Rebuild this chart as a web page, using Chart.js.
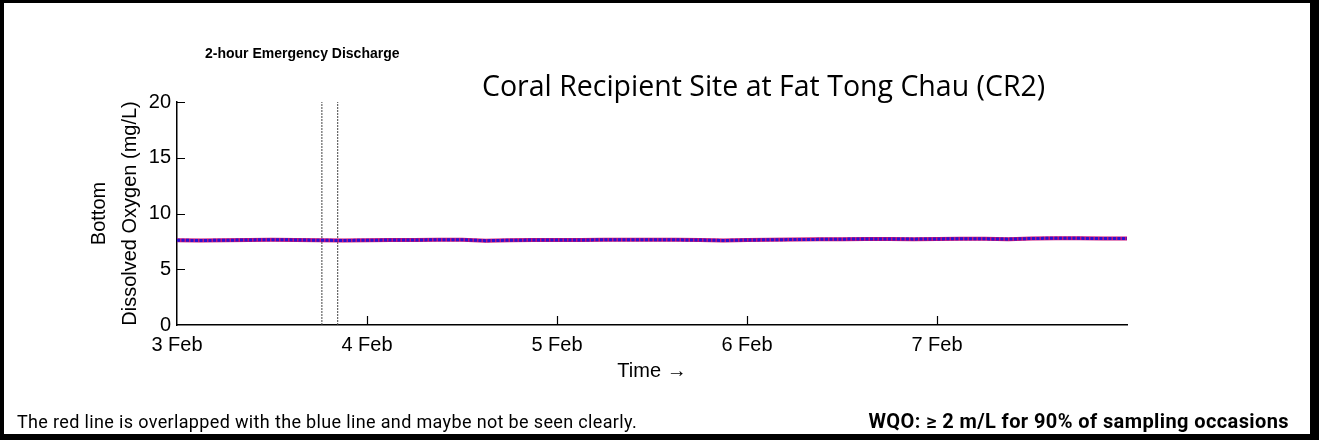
<!DOCTYPE html>
<html>
<head>
<meta charset="utf-8">
<script src="https://cdn.jsdelivr.net/npm/chart.js@4.4.1/dist/chart.umd.min.js"></script>
<style>
  html, body { margin: 0; padding: 0; background: #fff; }
  #wrap { position: relative; width: 1319px; height: 440px; overflow: hidden; }
  #chart { position: absolute; left: 0; top: 0; }
  #frame {
    position: absolute; left: 0; top: 0; width: 1319px; height: 440px; box-sizing: border-box;
    border-style: solid; border-color: #000; border-width: 3px 9px 6px 4px; pointer-events: none;
  }
  .txt { position: absolute; white-space: nowrap; color: #000; line-height: 1; }
  #event { left: 205px; top: 45px; font: bold 14px Arial, "Liberation Sans", sans-serif; }
  #title { left: 482px; top: 66px; font: 28.5px "Open Sans", sans-serif; }
  #note { left: 17px; top: 411px; font: 18px Roboto, sans-serif; letter-spacing: 0.35px; }
  #wqo { right: 30px; top: 409px; font: bold 20px Roboto, sans-serif; letter-spacing: 0.4px; }
</style>
</head>
<body>
<div id="wrap">
  <canvas id="chart" width="1319" height="440"></canvas>
  <div class="txt" id="event">2-hour Emergency Discharge</div>
  <div class="txt" id="title">Coral Recipient Site at Fat Tong Chau (CR2)</div>
  <div class="txt" id="note">The red line is overlapped with the blue line and maybe not be seen clearly.</div>
  <div class="txt" id="wqo">WQO: ≥ 2 m/L for 90% of sampling occasions</div>
  <div id="frame"></div>
</div>
<script>
// Zeit ab 3 Feb 00:00 in Stunden
const sampleHours = [0, 3, 6, 9, 12, 15, 18, 21, 24, 27, 30, 33, 36, 39, 42, 45, 48, 51, 54, 57,
  60, 63, 66, 69, 72, 75, 78, 81, 84, 87, 90, 93, 96, 99, 102, 105, 108, 111, 114, 117, 120];
// Bottom DO (mg/L), rot und blau liegen übereinander
const doRed = [7.60, 7.58, 7.60, 7.63, 7.65, 7.63, 7.60, 7.58, 7.60, 7.62, 7.63, 7.64, 7.65, 7.56,
  7.60, 7.62, 7.63, 7.63, 7.64, 7.65, 7.65, 7.64, 7.62, 7.58, 7.62, 7.65, 7.66, 7.68, 7.70, 7.71,
  7.72, 7.70, 7.72, 7.74, 7.73, 7.70, 7.76, 7.78, 7.77, 7.76, 7.76];
const doBlue = doRed.slice();
// Notablass 2 Stunden (Stunden ab 3 Feb)
const dischargeHours = [18.3, 20.3];
const dayTicks = [3, 4, 5, 6, 7];
const yTicks = [0, 5, 10, 15, 20];

const FONT = 'Arial, "Liberation Sans", sans-serif';
const toDay = h => 3 + h / 24;

// Achsentitel + nach innen zeigende Ticks
const axisDecor = {
  id: 'axisDecor',
  afterDraw(chart) {
    const { ctx, chartArea, scales: { x, y } } = chart;
    ctx.save();
    ctx.strokeStyle = '#000';
    ctx.lineWidth = 1.2;
    ctx.beginPath();
    yTicks.forEach(v => {
      if (v === 0) return;
      const py = Math.round(y.getPixelForValue(v)) + 0.5;
      ctx.moveTo(chartArea.left, py);
      ctx.lineTo(chartArea.left + 8, py);
    });
    dayTicks.forEach(v => {
      if (v === 3) return;
      const px = Math.round(x.getPixelForValue(v)) + 0.5;
      ctx.moveTo(px, chartArea.bottom);
      ctx.lineTo(px, chartArea.bottom - 9);
    });
    ctx.stroke();

    ctx.fillStyle = '#000';
    ctx.font = '20px ' + FONT;
    ctx.textAlign = 'center';
    ctx.textBaseline = 'alphabetic';
    const cy = (chartArea.top + chartArea.bottom) / 2;
    [['Bottom', 105], ['Dissolved Oxygen (mg/L)', 136]].forEach(([t, bx]) => {
      ctx.save();
      ctx.translate(bx, cy);
      ctx.rotate(-Math.PI / 2);
      ctx.fillText(t, 0, 0);
      ctx.restore();
    });
    ctx.fillText('Time \u2192', (chartArea.left + chartArea.right) / 2, 377);
    ctx.restore();
  }
};

const lineData = arr => sampleHours.map((h, i) => ({ x: toDay(h), y: arr[i] }));

const datasets = [
  {
    label: 'Blue',
    data: lineData(doBlue),
    borderColor: '#2a12d0',
    borderWidth: 3,
    borderDash: [3, 1.5],
    order: 0,
  },
  {
    label: 'Red',
    data: lineData(doRed),
    borderColor: '#c8147a',
    borderWidth: 4,
    order: 1,
  },
];
dischargeHours.forEach(h => {
  datasets.push({
    label: 'Discharge',
    data: [{ x: toDay(h), y: 0 }, { x: toDay(h), y: 20 }],
    borderColor: '#444',
    borderWidth: 1,
    borderDash: [2, 1],
    order: 2,
  });
});

new Chart(document.getElementById('chart'), {
  type: 'line',
  data: { datasets: datasets },
  options: {
    responsive: false,
    animation: false,
    events: [],
    layout: { padding: { top: 102, right: 192, bottom: 0, left: 0 } },
    elements: { point: { radius: 0 }, line: { tension: 0 } },
    plugins: { legend: { display: false }, tooltip: { enabled: false }, title: { display: false } },
    scales: {
      x: {
        type: 'linear',
        min: 3,
        max: 8,
        afterFit: s => { s.height = 115; },
        afterBuildTicks: s => { s.ticks = dayTicks.map(v => ({ value: v })); },
        grid: { display: false, drawTicks: false },
        border: { display: true, color: '#000', width: 1.5 },
        ticks: {
          padding: 8,
          color: '#000',
          maxRotation: 0,
          autoSkip: false,
          font: { family: FONT, size: 20 },
          callback: v => v + ' Feb',
        },
      },
      y: {
        min: 0,
        max: 20,
        afterFit: s => { s.width = 177; },
        afterBuildTicks: s => { s.ticks = yTicks.map(v => ({ value: v })); },
        grid: { display: false, drawTicks: false },
        border: { display: true, color: '#000', width: 1.5 },
        ticks: {
          padding: 6,
          color: '#000',
          font: { family: FONT, size: 20 },
        },
      },
    },
  },
  plugins: [axisDecor],
});
</script>
</body>
</html>
